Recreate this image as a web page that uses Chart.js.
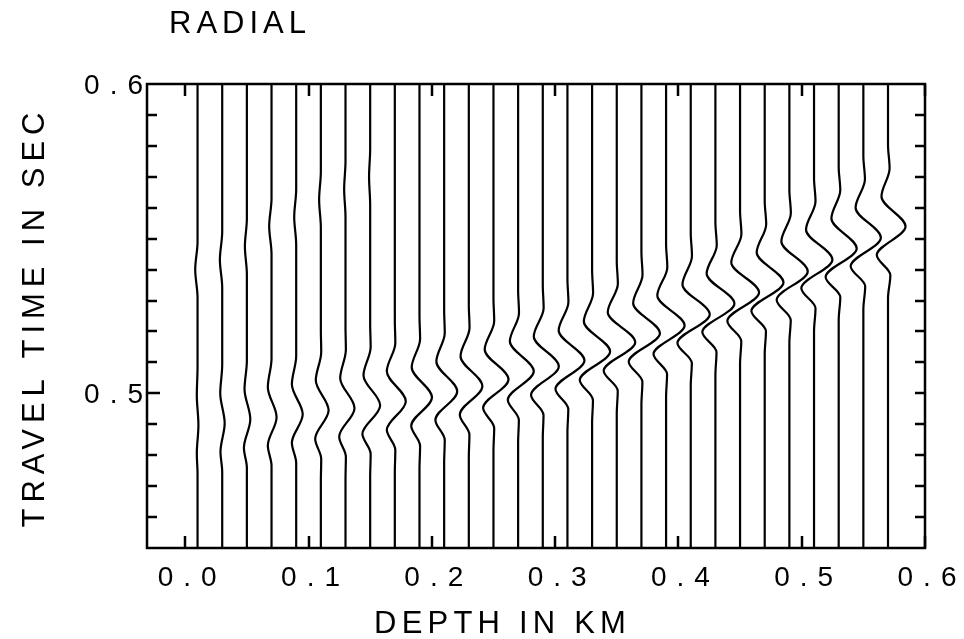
<!DOCTYPE html>
<html>
<head>
<meta charset="utf-8">
<title>RADIAL</title>
<script src="https://cdn.jsdelivr.net/npm/chart.js@4.4.1/dist/chart.umd.min.js"></script>
<style>
html, body { margin: 0; padding: 0; background: #fff; }
#wrap { width: 964px; height: 639px; }
</style>
</head>
<body>
<div id="wrap"><canvas id="myChart" width="964" height="639"></canvas></div>
<script>
// texts
const chartTitle = "RADIAL";
const xTitle = "DEPTH IN KM";
const yTitle = "TRAVEL TIME IN SEC";

// axes
const xTickValues = [0.0, 0.1, 0.2, 0.3, 0.4, 0.5, 0.6];
const yLabelTicks = [0.5, 0.6];
const yMinorTicks = [0.46, 0.47, 0.48, 0.49, 0.5, 0.51, 0.52, 0.53, 0.54, 0.55, 0.56, 0.57, 0.58, 0.59];

// receiver depths (km), one trace each
const traceDepth = [0.01, 0.03, 0.05, 0.07, 0.09, 0.11, 0.13, 0.15, 0.17, 0.19,
                    0.21, 0.23, 0.25, 0.27, 0.29, 0.31, 0.33, 0.35, 0.37, 0.39,
                    0.41, 0.43, 0.45, 0.47, 0.49, 0.51, 0.53, 0.55, 0.57];

// picks: time (s) and deflection (km) of each lobe
const peakTime = [0.4897, 0.4903, 0.4916, 0.4923, 0.4932, 0.4945, 0.4952, 0.4961, 0.4974, 0.4987,
                  0.5006, 0.5023, 0.5045, 0.5071, 0.5087, 0.5106, 0.5135, 0.5165, 0.5194, 0.5219,
                  0.5255, 0.5290, 0.5326, 0.5358, 0.5394, 0.5432, 0.5468, 0.5503, 0.5539];
const peakAmp = [0.0007, 0.0020, 0.0028, 0.0041, 0.0053, 0.0063, 0.0073, 0.0081, 0.0089, 0.0101,
                 0.0106, 0.0110, 0.0122, 0.0127, 0.0130, 0.0138, 0.0146, 0.0150, 0.0150, 0.0150,
                 0.0154, 0.0154, 0.0154, 0.0152, 0.0149, 0.0149, 0.0146, 0.0142, 0.0142];
const lateTime = [0.4994, 0.5000, 0.5013, 0.5020, 0.5029, 0.5042, 0.5049, 0.5058, 0.5071, 0.5084,
                  0.5103, 0.5120, 0.5142, 0.5168, 0.5184, 0.5203, 0.5232, 0.5262, 0.5291, 0.5316,
                  0.5352, 0.5387, 0.5423, 0.5455, 0.5491, 0.5529, 0.5565, 0.5600, 0.5636];
const lateAmp = [-0.0006, -0.0016, -0.0019, -0.0030, -0.0035, -0.0041, -0.0043, -0.0054, -0.0065, -0.0063,
                 -0.0063, -0.0067, -0.0071, -0.0067, -0.0073, -0.0071, -0.0067, -0.0073, -0.0067, -0.0071,
                 -0.0067, -0.0071, -0.0071, -0.0065, -0.0065, -0.0065, -0.0059, -0.0063, -0.0053];
const earlyTime = [0.4805, 0.4811, 0.4824, 0.4831, 0.4840, 0.4853, 0.4860, 0.4869, 0.4882, 0.4895,
                   0.4914, 0.4931, 0.4953, 0.4979, 0.4995, 0.5014, 0.5043, 0.5073, 0.5102, 0.5127,
                   0.5163, 0.5198, 0.5234, 0.5266, 0.5302, 0.5340, 0.5376, 0.5411, 0.5447];
const earlyAmp = [-0.0006, -0.0014, -0.0024, -0.0030, -0.0035, -0.0046, -0.0051, -0.0063, -0.0065, -0.0067,
                  -0.0071, -0.0073, -0.0084, -0.0084, -0.0095, -0.0097, -0.0100, -0.0106, -0.0103, -0.0102,
                  -0.0108, -0.0106, -0.0103, -0.0108, -0.0103, -0.0103, -0.0106, -0.0103, -0.0091];
// small wobbles outside the side lobes
const lateTailAmp = [0, 0, 0, 0, 0, 0.0003, 0.0003, 0.0004, 0.0004, 0.0005,
                     0.0005, 0.0006, 0.0006, 0.0007, 0.0007, 0.0008, 0.0008, 0.0009, 0.0009, 0.0010,
                     0.0010, 0.0011, 0.0011, 0.0012, 0.0012, 0.0012, 0.0013, 0.0013, 0.0013];
const earlyTailAmp = [0, 0, 0, 0, 0, 0.0003, 0.0003, 0.0004, 0.0004, 0.0005,
                      0.0005, 0.0005, 0.0006, 0.0006, 0.0006, 0.0007, 0.0007, 0.0008, 0.0008, 0.0008,
                      0.0009, 0.0009, 0.0010, 0.0010, 0.0011, 0.0012, 0.0013, 0.0015, 0.0019];
const lateTailGap = 0.0092;
const earlyTailGap = 0.0065;
const quietGap = 0.0075;

// weak later arrival on the shallowest traces
const weakTime = [0.5400, 0.5432, 0.5475, 0.5540, 0.5570, 0.5626, 0.5660, 0.5700];
const weakAmp = [-0.0019, -0.0019, -0.0016, -0.0019, -0.0016, -0.0014, -0.0011, -0.0009];
const weakGap = 0.009;

const timeMin = 0.45;
const timeMax = 0.6;

function tracePoints(i)
{
    let d = traceDepth[i];
    let pts = [
        { y: timeMin, x: d },
        { y: earlyTime[i] - earlyTailGap - quietGap, x: d },
        { y: earlyTime[i] - earlyTailGap, x: d + earlyTailAmp[i] },
        { y: earlyTime[i], x: d + earlyAmp[i] },
        { y: peakTime[i], x: d + peakAmp[i] },
        { y: lateTime[i], x: d + lateAmp[i] },
        { y: lateTime[i] + lateTailGap, x: d + lateTailAmp[i] },
        { y: lateTime[i] + lateTailGap + quietGap, x: d },
        { y: timeMax, x: d }
    ];
    if (i < weakTime.length) {
        pts.push({ y: weakTime[i] - weakGap, x: d });
        pts.push({ y: weakTime[i], x: d + weakAmp[i] });
        pts.push({ y: weakTime[i] + weakGap, x: d });
    }
    pts.sort((a, b) => a.y - b.y);
    return pts;
}

let datasets = [];
for (let i = 0; i < traceDepth.length; i++)
{
    datasets.push({
        data: tracePoints(i),
        borderColor: "#000",
        borderWidth: 2.2,
        pointRadius: 0,
        fill: false,
        cubicInterpolationMode: "monotone"
    });
}

const FONT = '"Liberation Sans", Arial, Helvetica, sans-serif';

const frameTicks = {
    id: "frameTicks",
    beforeDraw(chart) {
        chart.ctx.letterSpacing = "10px";
    },
    afterDraw(chart) {
        const ctx = chart.ctx;
        const a = chart.chartArea;
        const x = chart.scales.x;
        const y = chart.scales.y;
        ctx.save();
        ctx.letterSpacing = "0px";
        ctx.strokeStyle = "#000";
        ctx.lineWidth = 2.5;
        ctx.strokeRect(a.left, a.top, a.right - a.left, a.bottom - a.top);
        ctx.beginPath();
        xTickValues.forEach(v => {
            let px = Math.round(x.getPixelForValue(v));
            ctx.moveTo(px, a.bottom); ctx.lineTo(px, a.bottom - 12);
            ctx.moveTo(px, a.top); ctx.lineTo(px, a.top + 12);
        });
        yMinorTicks.forEach(v => {
            let py = Math.round(y.getPixelForValue(v));
            let len = yLabelTicks.includes(v) ? 13 : 10;
            ctx.moveTo(a.left, py); ctx.lineTo(a.left + len, py);
            ctx.moveTo(a.right, py); ctx.lineTo(a.right - 10, py);
        });
        ctx.stroke();

        ctx.fillStyle = "#000";
        ctx.font = "31px " + FONT;
        ctx.textBaseline = "alphabetic";

        ctx.letterSpacing = "5px";
        ctx.textAlign = "left";
        ctx.fillText(chartTitle, 169, 33);

        ctx.letterSpacing = "5.2px";
        ctx.textAlign = "center";
        ctx.fillText(xTitle, 502.6, 633);

        ctx.save();
        ctx.translate(43.5, 317);
        ctx.rotate(-Math.PI / 2);
        ctx.letterSpacing = "6px";
        ctx.textAlign = "center";
        ctx.fillText(yTitle, 0, 0);
        ctx.restore();

        ctx.restore();
    }
};

const tickFont = { family: FONT, size: 28 };

const ctx = document.getElementById("myChart").getContext("2d");
const myChart = new Chart(ctx, {
    type: "line",
    data: { datasets: datasets },
    options: {
        responsive: false,
        animation: false,
        indexAxis: "y",
        layout: { padding: { top: 84, right: 39, bottom: 0, left: 0 } },
        plugins: {
            legend: { display: false },
            tooltip: { enabled: false },
            title: { display: false }
        },
        scales: {
            x: {
                type: "linear",
                position: "bottom",
                min: -0.031,
                max: 0.6,
                grid: { display: false, drawTicks: false },
                border: { display: false },
                ticks: {
                    color: "#000",
                    font: tickFont,
                    padding: 13,
                    labelOffset: 7,
                    maxRotation: 0,
                    autoSkip: false,
                    callback: v => v.toFixed(1)
                },
                afterBuildTicks: s => { s.ticks = xTickValues.map(v => ({ value: v })); },
                afterFit: s => { s.height = 91; }
            },
            y: {
                type: "linear",
                position: "left",
                min: timeMin,
                max: timeMax,
                grid: { display: false, drawTicks: false },
                border: { display: false },
                ticks: {
                    color: "#000",
                    font: tickFont,
                    padding: -6,
                    labelOffset: 2,
                    autoSkip: false,
                    callback: v => v.toFixed(1)
                },
                afterBuildTicks: s => { s.ticks = yLabelTicks.map(v => ({ value: v })); },
                afterFit: s => { s.width = 147; }
            }
        }
    },
    plugins: [frameTicks]
});
</script>
</body>
</html>
